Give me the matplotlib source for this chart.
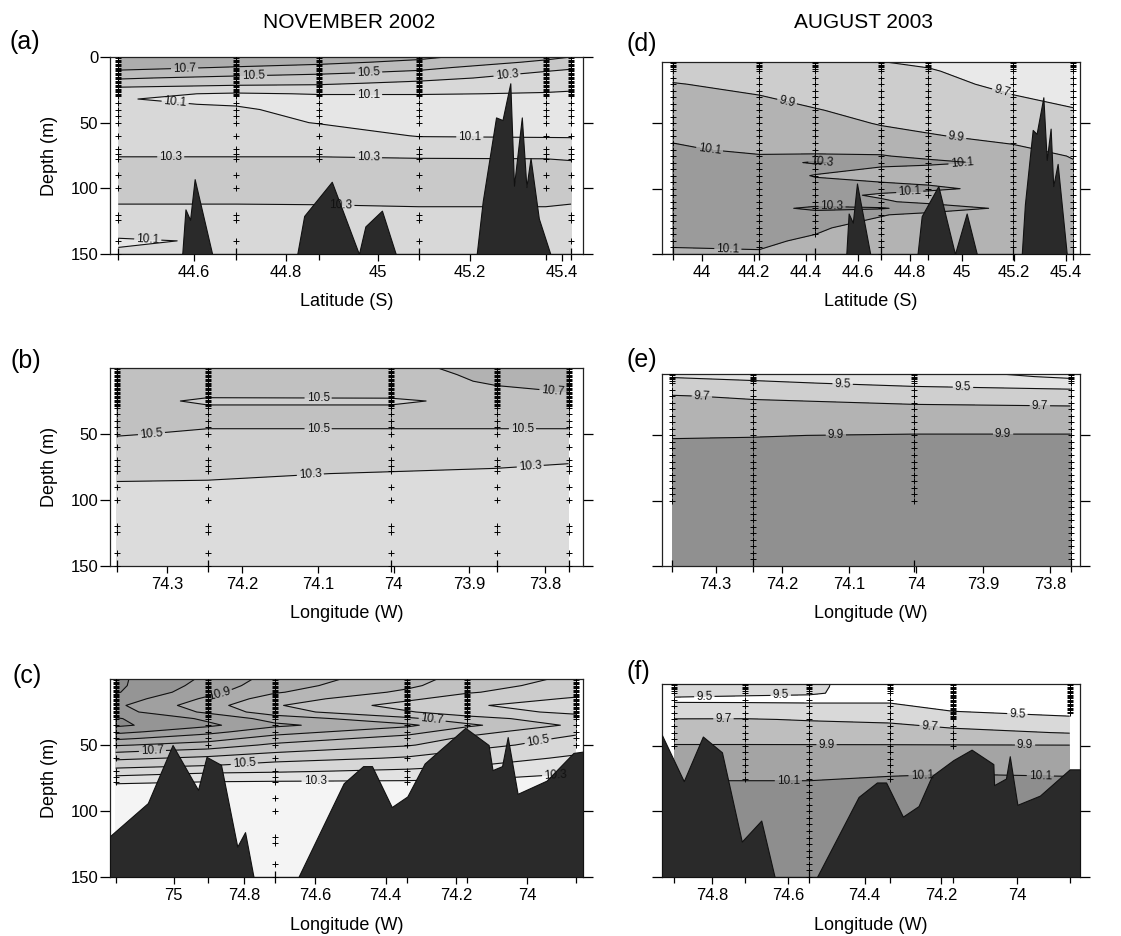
import numpy as np
import matplotlib
matplotlib.use("Agg")
import matplotlib.pyplot as plt
from matplotlib.ticker import FuncFormatter

plt.rcParams['font.family'] = ['Liberation Sans', 'DejaVu Sans']

# ---------------- text ----------------
COL_TITLES = ['NOVEMBER 2002', 'AUGUST 2003']
PANEL_LETTERS = ['(a)', '(b)', '(c)', '(d)', '(e)', '(f)']
XLABELS = ['Latitude (S)', 'Longitude (W)', 'Longitude (W)']
YLABEL = 'Depth (m)'

# ---------------- sampling depths ----------------
NOV_SAMPLE_DEPTHS = [1, 2, 3, 4, 5, 6, 7, 8, 9, 10, 11, 12, 13, 14, 15, 16, 17, 18, 19, 20,
                     21, 22, 23, 24, 25, 26, 27, 28, 29, 30, 35, 40, 45, 50, 60, 70, 74, 78,
                     90, 100, 120, 124, 140, 150]
AUG_SAMPLE_DEPTHS = [1, 2, 3, 4, 5, 6, 7, 8, 10, 15, 20, 25, 30, 35, 40, 45, 50, 55, 60, 65,
                     70, 75, 80, 85, 90, 95, 100, 105, 110, 115, 120, 125, 130, 135, 140, 145, 150]

# ---------------- panel (a) ----------------
A_STATIONS = [44.436, 44.692, 44.873, 45.089, 45.365, 45.420]
A_DEPTHS = [0, 4, 8, 12, 16, 20, 24, 28, 32, 36, 40, 50, 60, 70, 80, 90, 100, 110, 120, 130, 140, 150]
A_TEMP = [
    [10.85, 10.80, 10.74, 10.66, 10.52, 10.42, 10.26, 10.14, 10.11, 10.12, 10.14, 10.18, 10.22, 10.27, 10.32, 10.34, 10.34, 10.31, 10.26, 10.18, 10.08, 10.12],
    [10.82, 10.76, 10.69, 10.58, 10.45, 10.35, 10.22, 10.08, 10.05, 10.09, 10.12, 10.17, 10.22, 10.27, 10.32, 10.34, 10.34, 10.31, 10.26, 10.20, 10.12, 10.14],
    [10.80, 10.74, 10.64, 10.53, 10.42, 10.33, 10.22, 10.11, 10.04, 10.04, 10.05, 10.09, 10.20, 10.27, 10.32, 10.34, 10.34, 10.31, 10.27, 10.22, 10.18, 10.16],
    [10.74, 10.66, 10.55, 10.46, 10.36, 10.26, 10.18, 10.11, 10.04, 10.02, 10.01, 10.04, 10.09, 10.25, 10.32, 10.34, 10.34, 10.32, 10.27, 10.22, 10.19, 10.17],
    [10.55, 10.46, 10.36, 10.28, 10.22, 10.17, 10.13, 10.09, 10.04, 10.02, 10.01, 10.03, 10.08, 10.24, 10.32, 10.34, 10.34, 10.32, 10.27, 10.22, 10.19, 10.17],
    [10.50, 10.42, 10.32, 10.26, 10.20, 10.15, 10.12, 10.08, 10.04, 10.02, 10.01, 10.03, 10.08, 10.22, 10.31, 10.33, 10.33, 10.31, 10.26, 10.22, 10.19, 10.17],
]
A_FILL_LEVELS = [9.9, 10.1, 10.3, 10.5, 10.7, 10.9]
A_LINE_LEVELS = [10.1, 10.3, 10.5, 10.7]
A_BATHY_X = [44.418, 44.575, 44.582, 44.592, 44.602, 44.640, 44.825, 44.840, 44.900, 44.959,
             44.973, 45.009, 45.039, 45.215, 45.228, 45.257, 45.271, 45.288, 45.296, 45.313,
             45.323, 45.332, 45.350, 45.375, 45.446]
A_BATHY_D = [150, 150, 116, 124, 93, 150, 150, 121, 95, 150,
             129, 117, 150, 150, 110, 46, 48, 20, 98, 46,
             99, 77, 123, 150, 150]
A_SAMPLE_MAX = [150, 140, 80, 140, 100, 140]
A_XTICKS = [44.6, 44.8, 45.0, 45.2, 45.4]

# ---------------- panel (b) ----------------
B_STATIONS = [73.769, 73.864, 74.004, 74.246, 74.366]
B_DEPTHS = [0, 5, 10, 15, 20, 25, 30, 35, 40, 45, 50, 60, 70, 80, 90, 100, 120, 150]
B_TEMP = [
    [10.78, 10.76, 10.74, 10.72, 10.69, 10.62, 10.56, 10.54, 10.52, 10.505, 10.48, 10.40, 10.31, 10.27, 10.25, 10.24, 10.23, 10.22],
    [10.75, 10.73, 10.72, 10.69, 10.64, 10.56, 10.55, 10.54, 10.52, 10.505, 10.48, 10.41, 10.33, 10.28, 10.26, 10.24, 10.23, 10.22],
    [10.66, 10.65, 10.63, 10.60, 10.54, 10.47, 10.52, 10.53, 10.52, 10.505, 10.48, 10.42, 10.36, 10.29, 10.27, 10.26, 10.24, 10.22],
    [10.62, 10.62, 10.60, 10.58, 10.53, 10.47, 10.52, 10.54, 10.52, 10.505, 10.48, 10.42, 10.37, 10.32, 10.28, 10.26, 10.24, 10.22],
    [10.62, 10.62, 10.61, 10.60, 10.58, 10.57, 10.56, 10.55, 10.54, 10.53, 10.51, 10.45, 10.40, 10.33, 10.28, 10.26, 10.24, 10.22],
]
B_FILL_LEVELS = [10.1, 10.3, 10.5, 10.7, 10.9]
B_LINE_LEVELS = [10.3, 10.5, 10.7]
B_SAMPLE_MAX = [150, 150, 150, 150, 150]
B_XTICKS = [74.3, 74.2, 74.1, 74.0, 73.9, 73.8]

# ---------------- panel (c) ----------------
C_STATIONS = [73.862, 74.170, 74.339, 74.714, 74.902, 75.164]
C_DEPTHS = [0, 5, 10, 15, 20, 25, 30, 35, 40, 45, 50, 55, 60, 65, 70, 75, 80, 90, 100, 120, 150]
C_TEMP = [
    [10.58, 10.56, 10.53, 10.49, 10.46, 10.48, 10.54, 10.58, 10.52, 10.48, 10.45, 10.42, 10.38, 10.35, 10.31, 10.28, 10.25, 10.22, 10.20, 10.18, 10.17],
    [10.66, 10.64, 10.61, 10.55, 10.51, 10.54, 10.64, 10.72, 10.64, 10.58, 10.54, 10.49, 10.46, 10.41, 10.36, 10.31, 10.26, 10.22, 10.20, 10.18, 10.17],
    [10.74, 10.72, 10.68, 10.62, 10.56, 10.61, 10.72, 10.82, 10.74, 10.66, 10.61, 10.54, 10.49, 10.44, 10.38, 10.32, 10.27, 10.22, 10.20, 10.18, 10.17],
    [10.86, 10.84, 10.81, 10.75, 10.71, 10.74, 10.86, 10.92, 10.84, 10.76, 10.68, 10.61, 10.54, 10.47, 10.41, 10.33, 10.27, 10.22, 10.20, 10.18, 10.17],
    [10.98, 10.96, 10.93, 10.88, 10.84, 10.88, 10.98, 11.02, 10.93, 10.84, 10.76, 10.66, 10.58, 10.51, 10.42, 10.34, 10.27, 10.21, 10.19, 10.17, 10.16],
    [11.12, 11.12, 11.11, 11.06, 11.02, 11.04, 11.11, 11.12, 11.03, 10.92, 10.81, 10.71, 10.62, 10.54, 10.46, 10.37, 10.29, 10.22, 10.20, 10.18, 10.16],
]
C_FILL_LEVELS = [10.0, 10.3, 10.4, 10.5, 10.6, 10.7, 10.8, 10.9, 11.0, 11.1, 11.3]
C_LINE_LEVELS = [10.3, 10.4, 10.5, 10.6, 10.7, 10.8, 10.9, 11.0, 11.1]
C_BATHY_X = [75.180, 75.073, 75.003, 74.931, 74.907, 74.866, 74.820, 74.798, 74.774, 74.647,
             74.519, 74.464, 74.439, 74.383, 74.339, 74.290, 74.175, 74.109, 74.098, 74.071,
             74.055, 74.027, 73.945, 73.869, 73.842]
C_BATHY_D = [119, 94, 50, 84, 59, 65, 127, 116, 150, 150,
             79, 66, 66, 97, 89, 64, 37, 50, 69, 66,
             44, 87, 77, 56, 55]
C_SAMPLE_MAX = [50, 35, 78, 150, 50, 78]
C_XTICKS = [75.0, 74.8, 74.6, 74.4, 74.2, 74.0]

# ---------------- panel (d) ----------------
D_STATIONS = [43.887, 44.220, 44.436, 44.689, 44.871, 45.195, 45.428]
D_DEPTHS = [0, 5, 10, 20, 30, 40, 50, 60, 70, 75, 80, 85, 90, 100, 105, 110, 115, 120, 130, 140, 150]
D_TEMP = [
    [9.76, 9.80, 9.83, 9.91, 9.95, 10.00, 10.04, 10.08, 10.12, 10.14, 10.15, 10.16, 10.17, 10.18, 10.18, 10.18, 10.17, 10.16, 10.14, 10.11, 10.09],
    [9.72, 9.76, 9.79, 9.85, 9.91, 9.95, 9.99, 10.03, 10.07, 10.11, 10.16, 10.18, 10.19, 10.20, 10.20, 10.21, 10.22, 10.20, 10.16, 10.12, 10.09],
    [9.71, 9.74, 9.76, 9.80, 9.85, 9.91, 9.96, 10.01, 10.06, 10.12, 10.34, 10.15, 10.09, 10.17, 10.15, 10.18, 10.35, 10.20, 10.12, 10.08, 10.06],
    [9.69, 9.71, 9.73, 9.77, 9.80, 9.84, 9.89, 9.95, 10.06, 10.11, 10.14, 10.08, 10.05, 10.15, 10.08, 10.12, 10.32, 10.11, 10.04, 10.02, 10.01],
    [9.67, 9.69, 9.71, 9.75, 9.78, 9.82, 9.87, 9.91, 9.98, 10.06, 10.14, 10.04, 10.02, 10.13, 10.04, 10.06, 10.20, 10.05, 10.02, 10.01, 10.00],
    [9.60, 9.62, 9.64, 9.66, 9.71, 9.76, 9.82, 9.87, 9.92, 9.98, 10.06, 10.02, 10.02, 10.05, 10.03, 10.03, 10.06, 10.03, 10.02, 10.01, 10.00],
    [9.58, 9.60, 9.61, 9.63, 9.66, 9.71, 9.76, 9.82, 9.87, 9.89, 9.91, 9.92, 9.94, 9.96, 9.97, 9.98, 9.98, 9.98, 9.98, 9.98, 9.98],
]
D_FILL_LEVELS = [9.5, 9.7, 9.9, 10.1, 10.3, 10.5]
D_LINE_LEVELS = [9.7, 9.9, 10.1, 10.3]
D_BATHY_X = [43.846, 44.555, 44.564, 44.580, 44.596, 44.647, 44.829, 44.845, 44.909, 44.973,
             45.018, 45.057, 45.230, 45.242, 45.272, 45.287, 45.313, 45.326, 45.341, 45.351,
             45.368, 45.403, 45.454]
D_BATHY_D = [150, 150, 119, 126, 96, 150, 150, 121, 98, 150,
             119, 150, 150, 112, 55, 58, 30, 78, 54, 98,
             81, 150, 150]
D_SAMPLE_MAX = [145, 150, 135, 150, 105, 150, 150]
D_XTICKS = [44.0, 44.2, 44.4, 44.6, 44.8, 45.0, 45.2, 45.4]

# ---------------- panel (e) ----------------
E_STATIONS = [73.769, 74.003, 74.244, 74.365]
E_DEPTHS = [0, 5, 10, 15, 20, 25, 30, 40, 50, 60, 80, 100, 120, 150]
E_TEMP = [
    [9.20, 9.27, 9.38, 9.51, 9.58, 9.68, 9.72, 9.81, 9.91, 9.95, 9.97, 9.98, 9.99, 10.00],
    [9.33, 9.40, 9.47, 9.53, 9.63, 9.69, 9.73, 9.81, 9.91, 9.94, 9.97, 9.98, 9.99, 10.00],
    [9.42, 9.47, 9.52, 9.60, 9.68, 9.72, 9.75, 9.83, 9.895, 9.93, 9.96, 9.98, 9.99, 10.00],
    [9.45, 9.49, 9.56, 9.64, 9.71, 9.75, 9.78, 9.84, 9.89, 9.93, 9.96, 9.98, 9.99, 10.00],
]
E_FILL_LEVELS = [9.1, 9.3, 9.5, 9.7, 9.9, 10.1]
E_LINE_LEVELS = [9.3, 9.5, 9.7, 9.9]
E_SAMPLE_MAX = [145, 100, 145, 100]
E_XTICKS = [74.3, 74.2, 74.1, 74.0, 73.9, 73.8]

# ---------------- panel (f) ----------------
F_STATIONS = [73.863, 74.170, 74.335, 74.545, 74.713, 74.899]
F_DEPTHS = [0, 5, 10, 15, 20, 25, 30, 40, 50, 60, 70, 75, 80, 90, 100, 120, 150]
F_TEMP = [
    [9.33, 9.36, 9.39, 9.42, 9.45, 9.48, 9.52, 9.69, 9.91, 9.98, 10.08, 10.11, 10.13, 10.16, 10.18, 10.20, 10.21],
    [9.36, 9.38, 9.41, 9.44, 9.47, 9.51, 9.60, 9.75, 9.91, 9.99, 10.09, 10.12, 10.14, 10.16, 10.18, 10.20, 10.21],
    [9.42, 9.44, 9.46, 9.48, 9.52, 9.59, 9.67, 9.78, 9.91, 9.98, 10.08, 10.11, 10.13, 10.16, 10.18, 10.20, 10.21],
    [9.53, 9.52, 9.51, 9.47, 9.53, 9.61, 9.69, 9.79, 9.91, 9.97, 10.05, 10.09, 10.12, 10.16, 10.18, 10.20, 10.21],
    [9.56, 9.55, 9.52, 9.47, 9.54, 9.62, 9.71, 9.80, 9.91, 9.97, 10.05, 10.09, 10.12, 10.15, 10.17, 10.19, 10.20],
    [9.56, 9.56, 9.53, 9.48, 9.53, 9.60, 9.71, 9.80, 9.91, 9.97, 10.05, 10.09, 10.12, 10.15, 10.17, 10.19, 10.20],
]
F_FILL_LEVELS = [9.1, 9.5, 9.7, 9.9, 10.1, 10.3]
F_LINE_LEVELS = [9.5, 9.7, 9.9, 10.1]
F_BATHY_X = [74.931, 74.874, 74.824, 74.774, 74.722, 74.671, 74.636, 74.525, 74.416, 74.368,
             74.344, 74.300, 74.259, 74.224, 74.168, 74.120, 74.063, 74.061, 74.030, 74.020,
             74.000, 73.941, 73.863, 73.836]
F_BATHY_D = [42, 77, 43, 55, 123, 107, 150, 150, 89, 78,
             78, 104, 96, 73, 61, 53, 64, 80, 75, 58,
             95, 88, 68, 68]
F_SAMPLE_MAX = [25, 50, 76, 150, 75, 50]
F_SAMPLE_KIND = ['nov', 'nov', 'aug', 'aug', 'aug', 'aug']
F_XTICKS = [74.8, 74.6, 74.4, 74.2, 74.0]

# ---------------- styling (not data) ----------------
W, H = 1121, 936
fig = plt.figure(figsize=(W / 100, H / 100), dpi=100)

def rect(x0, x1, ytop, ybot):
    return [x0 / W, 1 - ybot / H, (x1 - x0) / W, (ybot - ytop) / H]

PANELS = [
    dict(rect=rect(110, 583, 57, 254), st=A_STATIONS, dep=A_DEPTHS, T=A_TEMP,
         fl=A_FILL_LEVELS, fc=['#e6e6e6', '#d8d8d8', '#c9c9c9', '#bcbcbc', '#adadad'],
         ll=A_LINE_LEVELS,
         lab=[(44.58, 8.5), (44.73, 15), (44.98, 11), (45.28, 11), (44.98, 28), (44.56, 33),
              (45.2, 61), (44.55, 76), (44.98, 76), (44.92, 112), (44.5, 140)],
         bx=A_BATHY_X, bd=A_BATHY_D, smax=A_SAMPLE_MAX, skind=['nov'] * 6,
         xlim=(44.418, 45.446), ytop=0, xt=A_XTICKS, yt=[0, 50, 100, 150], ylab=True,
         xlabel=XLABELS[0], letter=PANEL_LETTERS[0], lpos=(25, 42)),
    dict(rect=rect(110, 583, 368, 566), st=B_STATIONS, dep=B_DEPTHS, T=B_TEMP,
         fl=B_FILL_LEVELS, fc=['#dcdcdc', '#cecece', '#c1c1c1', '#b2b2b2'],
         ll=B_LINE_LEVELS,
         lab=[(74.1, 22.5), (73.79, 19), (74.32, 51), (74.1, 47), (73.83, 46), (74.11, 84), (73.82, 72)],
         bx=None, bd=None, smax=B_SAMPLE_MAX, skind=['nov'] * 5,
         xlim=(74.375, 73.750), ytop=0, xt=B_XTICKS, yt=[50, 100, 150], ylab=True,
         xlabel=XLABELS[1], letter=PANEL_LETTERS[1], lpos=(26, 361)),
    dict(rect=rect(110, 583, 679, 877), st=C_STATIONS, dep=C_DEPTHS, T=C_TEMP,
         fl=C_FILL_LEVELS, fc=['#f4f4f4', '#e2e2e2', '#d7d7d7', '#cccccc', '#c1c1c1', '#b6b6b6',
                               '#ababab', '#a0a0a0', '#959595', '#8a8a8a'],
         ll=C_LINE_LEVELS,
         lab=[(74.87, 13), (75.06, 54), (74.8, 65), (74.6, 77), (74.27, 34), (73.97, 46), (73.92, 71)],
         bx=C_BATHY_X, bd=C_BATHY_D, smax=C_SAMPLE_MAX, skind=['nov'] * 6,
         xlim=(75.180, 73.842), ytop=0, xt=C_XTICKS, yt=[50, 100, 150], ylab=True,
         xlabel=XLABELS[2], letter=PANEL_LETTERS[2], lpos=(27, 676)),
    dict(rect=rect(662, 1080, 62, 254), st=D_STATIONS, dep=D_DEPTHS, T=D_TEMP,
         fl=D_FILL_LEVELS, fc=['#e9e9e9', '#cdcdcd', '#b3b3b3', '#9b9b9b', '#858585'],
         ll=D_LINE_LEVELS,
         lab=[(44.33, 31), (45.15, 28), (44.98, 57), (44.03, 68), (44.46, 80), (45.0, 80),
              (44.8, 106), (44.5, 115), (44.1, 141)],
         bx=D_BATHY_X, bd=D_BATHY_D, smax=D_SAMPLE_MAX, skind=['aug'] * 7,
         xlim=(43.846, 45.454), ytop=3, xt=D_XTICKS, yt=[50, 100, 150], ylab=False,
         xlabel=XLABELS[0], letter=PANEL_LETTERS[3], lpos=(642, 44)),
    dict(rect=rect(662, 1080, 374, 566), st=E_STATIONS, dep=E_DEPTHS, T=E_TEMP,
         fl=E_FILL_LEVELS, fc=['#efefef', '#e3e3e3', '#cfcfcf', '#b3b3b3', '#909090'],
         ll=E_LINE_LEVELS,
         lab=[(74.11, 12), (73.93, 14), (74.32, 17), (73.815, 27), (74.12, 50), (73.87, 48)],
         bx=None, bd=None, smax=E_SAMPLE_MAX, skind=['aug'] * 4,
         xlim=(74.380, 73.755), ytop=3, xt=E_XTICKS, yt=[50, 100, 150], ylab=False,
         xlabel=XLABELS[1], letter=PANEL_LETTERS[4], lpos=(642, 360)),
    dict(rect=rect(662, 1080, 684, 877), st=F_STATIONS, dep=F_DEPTHS, T=F_TEMP,
         fl=F_FILL_LEVELS, fc=['#ffffff', '#d9d9d9', '#bebebe', '#a4a4a4', '#8e8e8e'],
         ll=F_LINE_LEVELS,
         lab=[(74.82, 14), (74.62, 11.5), (74.0, 26), (74.77, 30), (74.23, 35), (74.5, 50),
              (73.98, 50), (74.6, 76), (74.25, 71), (73.94, 74)],
         bx=F_BATHY_X, bd=F_BATHY_D, smax=F_SAMPLE_MAX, skind=F_SAMPLE_KIND,
         xlim=(74.931, 73.836), ytop=3, xt=F_XTICKS, yt=[50, 100, 150], ylab=False,
         xlabel=XLABELS[2], letter=PANEL_LETTERS[5], lpos=(638, 672)),
]

fmt_g = FuncFormatter(lambda v, p: f'{v:g}')

for P in PANELS:
    ax = fig.add_axes(P['rect'])
    ax.set_xlim(*P['xlim'])
    ax.set_ylim(150, P['ytop'])
    Z = np.array(P['T'], dtype=float).T
    ax.contourf(P['st'], P['dep'], Z, levels=P['fl'], colors=P['fc'], zorder=1)
    cs = ax.contour(P['st'], P['dep'], Z, levels=P['ll'], colors='#111111',
                    linewidths=0.8, zorder=2)
    try:
        ax.clabel(cs, fmt='%.1f', fontsize=8.5, inline=True, inline_spacing=2,
                  manual=P['lab'])
    except Exception:
        ax.clabel(cs, fmt='%.1f', fontsize=8.5, inline=True)
    for t in cs.labelTexts:
        t.set_zorder(5)
    if P['bx'] is not None:
        ax.fill_between(P['bx'], P['bd'], 150, facecolor='#2a2a2a', edgecolor='#111111',
                        linewidth=0.8, zorder=3)
    for x, dmax, kind in zip(P['st'], P['smax'], P['skind']):
        src = NOV_SAMPLE_DEPTHS if kind == 'nov' else AUG_SAMPLE_DEPTHS
        ds = [d for d in src if d <= dmax]
        ax.plot([x] * len(ds), ds, linestyle='none', marker='+', ms=5, mew=0.7,
                color='k', zorder=4)

    ax.set_xticks(P['xt'])
    ax.xaxis.set_major_formatter(fmt_g)
    ax.set_xticks(P['st'], minor=True)
    ax.tick_params(axis='x', which='major', direction='out', length=5, width=0.9,
                   pad=3, labelsize=12)
    ax.tick_params(axis='x', which='minor', direction='inout', length=8, width=0.9)
    ax.set_yticks(P['yt'])
    ax.tick_params(axis='y', which='major', direction='out', length=7, width=0.9, pad=1.5,
                   labelsize=12, right=True, labelleft=P['ylab'])
    ax.yaxis.set_minor_locator(plt.NullLocator())
    for s in ax.spines.values():
        s.set_linewidth(0.9)
        s.set_color('#222222')

    wpx = P['rect'][2] * W
    hpx = P['rect'][3] * H
    ax.set_xlabel(P['xlabel'], fontsize=13)
    ax.xaxis.set_label_coords(0.5, -48 / hpx)
    ax.xaxis.label.set_va('center')
    if P['ylab']:
        ax.set_ylabel(YLABEL, fontsize=13)
        ax.yaxis.set_label_coords(-60 / wpx, 0.5)
        ax.yaxis.label.set_va('center')

    fig.text(P['lpos'][0] / W, 1 - P['lpos'][1] / H, P['letter'], fontsize=18,
             ha='center', va='center')

fig.text(349 / W, 1 - 22 / H, COL_TITLES[0], fontsize=15, ha='center', va='center')
fig.text(863 / W, 1 - 22 / H, COL_TITLES[1], fontsize=15, ha='center', va='center')

fig.savefig('out.png', dpi=100)
